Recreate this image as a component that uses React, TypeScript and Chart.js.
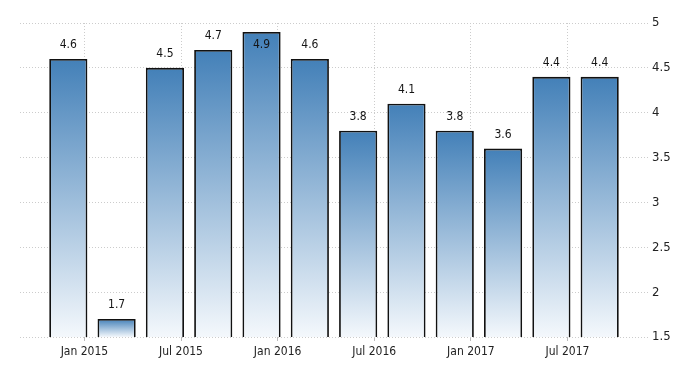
import React, { useEffect, useRef } from "react";
import { Chart, registerables } from "chart.js";

Chart.register(...registerables);

const categories = [
  "Jan 2015", "Apr 2015", "Jul 2015", "Oct 2015",
  "Jan 2016", "Apr 2016", "Jul 2016", "Oct 2016",
  "Jan 2017", "Apr 2017", "Jul 2017", "Oct 2017",
];
const values = [4.6, 1.7, 4.5, 4.7, 4.9, 4.6, 3.8, 4.1, 3.8, 3.6, 4.4, 4.4];
const tickLabels = ["Jan 2015", "Jul 2015", "Jan 2016", "Jul 2016", "Jan 2017", "Jul 2017"];
const yMin = 1.5;
const yMax = 5;
const yStep = 0.5;

const FONT = "'DejaVu Sans Condensed', 'Liberation Sans Narrow', sans-serif";
const TOP_COLOR = "#4380b8";
const BOTTOM_COLOR = "#f4f8fc";

// month offset of a "Mon YYYY" label from Jan 2015
function monthOf(label: string): number {
  const names = ["Jan", "Feb", "Mar", "Apr", "May", "Jun", "Jul", "Aug", "Sep", "Oct", "Nov", "Dec"];
  const [m, y] = label.split(" ");
  return (parseInt(y, 10) - 2015) * 12 + names.indexOf(m);
}

const labelPlugin = {
  id: "valueLabels",
  afterDatasetsDraw(chart: any) {
    const ctx = chart.ctx;
    const meta = chart.getDatasetMeta(0);
    ctx.save();
    ctx.font = `12px ${FONT}`;
    ctx.fillStyle = "#151515";
    ctx.textAlign = "center";
    ctx.textBaseline = "middle";
    meta.data.forEach((bar: any, i: number) => {
      let y = bar.y - 14;
      if (y < chart.chartArea.top) y = bar.y + 13;
      ctx.fillText(String(values[i]), bar.x, y);
    });
    ctx.restore();
  },
};

export default function App() {
  const ref = useRef<HTMLCanvasElement>(null);

  useEffect(() => {
    if (!ref.current) return;
    const data = categories.map((c, i) => ({ x: monthOf(c), y: values[i] }));
    const chart = new Chart(ref.current, {
      type: "bar",
      data: {
        datasets: [
          {
            data: data as any,
            borderColor: "#111111",
            borderWidth: 1.8,
            borderSkipped: false,
            barPercentage: 0.79,
            categoryPercentage: 1,
            backgroundColor: (c: any) => {
              const ch = c.chart;
              if (!ch.chartArea || c.type !== "data") return TOP_COLOR;
              const ys = ch.scales.y;
              const top = ys.getPixelForValue(c.parsed.y);
              const bot = ys.getPixelForValue(yMin);
              if (!isFinite(top) || !isFinite(bot) || bot - top < 1) return TOP_COLOR;
              const g = ch.ctx.createLinearGradient(0, top, 0, bot);
              g.addColorStop(0, TOP_COLOR);
              g.addColorStop(1, BOTTOM_COLOR);
              return g;
            },
          },
        ],
      },
      options: {
        animation: false,
        responsive: true,
        maintainAspectRatio: false,
        layout: { padding: { top: 23, left: 20, right: 0, bottom: 0 } },
        plugins: { legend: { display: false }, tooltip: { enabled: false } },
        scales: {
          x: {
            type: "linear",
            min: -3,
            max: 36,
            offset: false,
            grid: {
              offset: false,
              color: "#cccccc",
              lineWidth: 1,
              tickLength: 4,
              drawOnChartArea: true,
              tickColor: "#bbbbbb",
            },
            border: { display: false, dash: [1, 2] },
            afterBuildTicks: (scale: any) => {
              scale.ticks = tickLabels.map((t) => ({ value: monthOf(t) + 1, label: t }));
            },
            ticks: {
              autoSkip: false,
              maxRotation: 0,
              padding: 4,
              color: "#222222",
              font: { family: FONT, size: 12 },
              callback: (v: any) => {
                const t = tickLabels.find((l) => monthOf(l) + 1 === v);
                return t ?? "";
              },
            },
            afterFit: (s: any) => {
              s.height = 38;
            },
          },
          y: {
            position: "right",
            min: yMin,
            max: yMax,
            grid: { color: "#cccccc", lineWidth: 1, drawTicks: false },
            border: { display: false, dash: [1, 2] },
            ticks: {
              stepSize: yStep,
              padding: 4,
              color: "#222222",
              font: { family: FONT, size: 13 },
              callback: (v: any) => String(Number(v)),
            },
            afterFit: (s: any) => {
              s.width = 52;
            },
          },
        },
      },
      plugins: [labelPlugin],
    });
    return () => chart.destroy();
  }, []);

  return (
    <div style={{ position: "fixed", left: 0, top: 0, width: 700, height: 375, background: "#fff" }}>
      <canvas ref={ref} />
    </div>
  );
}
